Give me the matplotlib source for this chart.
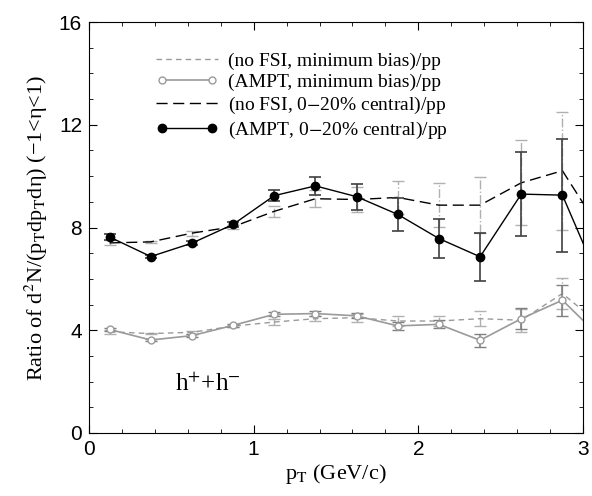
import numpy as np
import matplotlib
matplotlib.use('Agg')
from matplotlib import pyplot as plt
from matplotlib.ticker import MultipleLocator
from matplotlib.legend_handler import HandlerLine2D

plt.rcParams['mathtext.fontset'] = 'stix'

# pT bin centres (GeV/c); the last bin lies beyond the axis and gets clipped
pt = [0.125, 0.375, 0.625, 0.875, 1.125, 1.375, 1.625, 1.875, 2.125, 2.375, 2.625, 2.875, 3.125]

nofsi_mb = [3.94, 3.87, 3.92, 4.16, 4.32, 4.45, 4.49, 4.36, 4.36, 4.45, 4.39, 5.43, 4.1]
nofsi_mb_err = [0.08, 0.03, 0.05, 0.05, 0.1, 0.1, 0.15, 0.2, 0.2, 0.3, 0.45, 0.6, 0.6]

ampt_mb = [4.03, 3.62, 3.79, 4.19, 4.62, 4.65, 4.56, 4.17, 4.23, 3.61, 4.45, 5.17, 3.6]
ampt_mb_err = [0.05, 0.03, 0.05, 0.05, 0.08, 0.1, 0.1, 0.15, 0.15, 0.25, 0.4, 0.6, 0.6]

nofsi_c = [7.40, 7.44, 7.78, 8.03, 8.63, 9.12, 9.09, 9.17, 8.87, 8.87, 9.74, 10.21, 7.7]
nofsi_c_err = [0.1, 0.05, 0.1, 0.08, 0.21, 0.34, 0.5, 0.65, 0.85, 1.1, 1.66, 2.3, 2.3]

ampt_c = [7.63, 6.87, 7.39, 8.12, 9.24, 9.62, 9.20, 8.51, 7.57, 6.86, 9.30, 9.26, 5.54]
ampt_c_err = [0.1, 0.05, 0.07, 0.1, 0.22, 0.36, 0.5, 0.63, 0.77, 0.93, 1.65, 2.2, 2.2]

fig = plt.figure(figsize=(5.92, 4.96), dpi=100)
ax = fig.add_axes([89/592, 1 - 433/496, 494/592, 411/496])

grey = '#9a9a9a'

# no-FSI curves: dashed lines, error bars in light dash-dot
for y, e, c, dash in [(nofsi_mb, nofsi_mb_err, grey, (4, 3)),
                      (nofsi_c, nofsi_c_err, 'black', (8, 4))]:
    ax.plot(pt, y, color=c, lw=1.0, dashes=dash, zorder=2)
    eb = ax.errorbar(pt, y, yerr=e, fmt='none', ecolor='#b0b0b0', elinewidth=1.0,
                     capsize=4.5, capthick=1.0, zorder=1)
    eb[2][0].set_linestyle('-.')

# AMPT curves
ax.errorbar(pt, ampt_mb, yerr=ampt_mb_err, color=grey, lw=1.2, marker='o', ms=5,
            mfc='white', mec=grey, mew=1.0, ecolor='#808080', elinewidth=1.2,
            capsize=4.5, capthick=1.2, zorder=3)
ax.errorbar(pt, ampt_c, yerr=ampt_c_err, color='black', lw=1.0, marker='o', ms=6,
            mfc='black', mec='black', ecolor='#404040', elinewidth=1.2,
            capsize=4.5, capthick=1.2, zorder=4)

# legend handles
h1, = ax.plot([], [], color=grey, lw=1.0, dashes=(4, 3))
h2, = ax.plot([], [], color=grey, lw=1.2, marker='o', ms=5, mfc='white', mec=grey)
h3, = ax.plot([], [], color='black', lw=1.0, dashes=(8, 4))
h4, = ax.plot([], [], color='black', lw=1.0, marker='o', ms=6, mfc='black')
ax.legend([h1, h2, h3, h4],
          ['(no FSI, minimum bias)/pp', '(AMPT, minimum bias)/pp',
           '(no FSI, 0$-$20% central)/pp', '(AMPT, 0$-$20% central)/pp'],
          loc='upper left', bbox_to_anchor=(0.1, 0.97), frameon=False,
          prop={'family': 'Liberation Serif', 'size': 14},
          handlelength=3.2, handletextpad=0.5, labelspacing=0.2,
          handler_map={h2: HandlerLine2D(numpoints=2), h4: HandlerLine2D(numpoints=2)})

ax.text(0.52, 1.65, r'h$^{+}$+h$^{-}$', fontsize=18, family='Liberation Serif')

ax.set_xlim(0, 3)
ax.set_ylim(0, 16)
ax.xaxis.set_major_locator(MultipleLocator(1))
ax.xaxis.set_minor_locator(MultipleLocator(0.2))
ax.yaxis.set_major_locator(MultipleLocator(4))
ax.yaxis.set_minor_locator(MultipleLocator(1))
ax.tick_params(which='both', direction='in', top=True, right=True)
ax.tick_params(which='major', length=6, labelsize=15, pad=5)
ax.tick_params(which='minor', length=3)
for lbl in ax.get_xticklabels() + ax.get_yticklabels():
    lbl.set_family('Liberation Sans')

ax.set_xlabel(r'p$_{\rm T}$ (GeV/c)', family='Liberation Serif', fontsize=16, labelpad=2)
ax.set_ylabel('Ratio of d$^2$N/(p$_{\\rm T}$dp$_{\\rm T}$dη) (\u22121<η<1)',
              family='Liberation Serif', fontsize=16, labelpad=6)

fig.savefig('out.png', dpi=100)
